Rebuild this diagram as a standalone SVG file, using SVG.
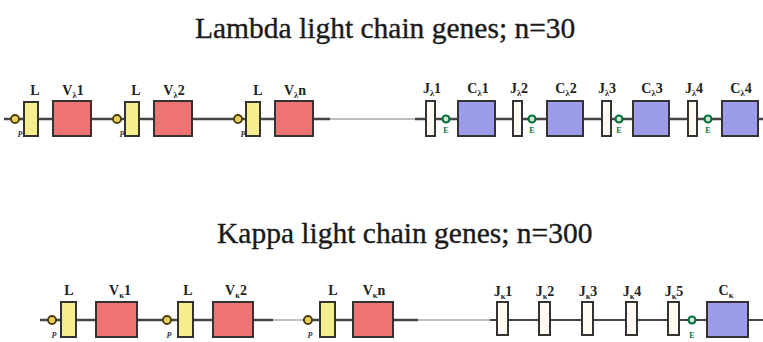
<svg xmlns="http://www.w3.org/2000/svg" width="763" height="342" viewBox="0 0 763 342">
<style>
.title{font-family:"Liberation Serif","Times New Roman",serif;font-size:29.5px;fill:#1a1a1a;stroke:#1a1a1a;stroke-width:0.35}
.lbl{font-family:"Liberation Serif","Times New Roman",serif;font-size:14px;font-weight:bold;fill:#222;text-anchor:middle}
.sub{font-size:8.5px}
.lead{fill:#f4ef8c;stroke:#333;stroke-width:2}
.v{fill:#f07373;stroke:#333;stroke-width:2}
.c{fill:#9c9ceb;stroke:#333;stroke-width:2}
.j{fill:#fffaf2;stroke:#333;stroke-width:2}
.p{fill:#e8d060;stroke:#4a3c00;stroke-width:1.8}
.e{fill:#cfe8d0;stroke:#0a7040;stroke-width:2.2}
.pl{font-family:"Liberation Serif",serif;font-size:8px;font-style:italic;font-weight:bold;fill:#334;text-anchor:middle}
.el{font-family:"Liberation Serif",serif;font-size:8px;font-weight:bold;fill:#0a7040;text-anchor:middle}
.bb{stroke:#454545;stroke-width:2.5;fill:none}
.gap{stroke:#aaaaaa;stroke-width:1.5;fill:none}
.bbt{stroke:#454545;stroke-width:2;fill:none}
</style>
<rect width="763" height="342" fill="#ffffff"/>
<text class="title" x="195" y="38">Lambda light chain genes; n=30</text>
<text class="title" x="217" y="243">Kappa light chain genes; n=300</text>

<g id="connectors">
<line class="bb" x1="4" y1="119" x2="330" y2="119"/>
<line class="gap" x1="330" y1="119" x2="415" y2="119"/>
<line class="bb" x1="415" y1="119" x2="763" y2="119"/>
<line class="bb" x1="40" y1="320" x2="273" y2="320"/>
<line class="gap" x1="273" y1="320" x2="303" y2="320"/>
<line class="bb" x1="303" y1="320" x2="418" y2="320"/>
<line class="gap" x1="418" y1="320" x2="490" y2="320"/>
<line class="bbt" x1="490" y1="320" x2="763" y2="320"/>
</g>

<!-- Lambda locus -->
<g id="lam-p1"><circle class="p" cx="15" cy="119" r="4"/><text class="pl" x="20" y="137">P</text></g>
<g id="lam-L1"><rect class="lead" x="24" y="102" width="14" height="34"/><text class="lbl" x="35" y="95">L</text></g>
<g id="lam-V1"><rect class="v" x="53" y="101" width="38" height="35"/><text class="lbl" x="73" y="95">V<tspan class="sub" dy="3">λ</tspan><tspan dy="-3">1</tspan></text></g>
<g id="lam-p2"><circle class="p" cx="117" cy="119" r="4"/><text class="pl" x="122" y="137">P</text></g>
<g id="lam-L2"><rect class="lead" x="125" y="102" width="14" height="34"/><text class="lbl" x="136" y="95">L</text></g>
<g id="lam-V2"><rect class="v" x="154" y="101" width="38" height="35"/><text class="lbl" x="174" y="95">V<tspan class="sub" dy="3">λ</tspan><tspan dy="-3">2</tspan></text></g>
<g id="lam-p3"><circle class="p" cx="238" cy="119" r="4"/><text class="pl" x="243" y="137">P</text></g>
<g id="lam-L3"><rect class="lead" x="246" y="102" width="14" height="34"/><text class="lbl" x="258" y="95">L</text></g>
<g id="lam-Vn"><rect class="v" x="275" y="101" width="38" height="35"/><text class="lbl" x="295" y="95">V<tspan class="sub" dy="3">λ</tspan><tspan dy="-3">n</tspan></text></g>

<g id="lam-J1"><rect class="j" x="426" y="101" width="9" height="35"/><text class="lbl" x="432" y="93">J<tspan class="sub" dy="3">λ</tspan><tspan dy="-3">1</tspan></text></g>
<g id="lam-E1"><circle class="e" cx="446" cy="119" r="3.5"/><text class="el" x="446" y="133">E</text></g>
<g id="lam-C1"><rect class="c" x="458" y="101" width="37" height="35"/><text class="lbl" x="478" y="93">C<tspan class="sub" dy="3">λ</tspan><tspan dy="-3">1</tspan></text></g>
<g id="lam-J2"><rect class="j" x="513" y="101" width="9" height="35"/><text class="lbl" x="519" y="93">J<tspan class="sub" dy="3">λ</tspan><tspan dy="-3">2</tspan></text></g>
<g id="lam-E2"><circle class="e" cx="532" cy="119" r="3.5"/><text class="el" x="532" y="133">E</text></g>
<g id="lam-C2"><rect class="c" x="547" y="101" width="36" height="35"/><text class="lbl" x="566" y="93">C<tspan class="sub" dy="3">λ</tspan><tspan dy="-3">2</tspan></text></g>
<g id="lam-J3"><rect class="j" x="602" y="101" width="9" height="35"/><text class="lbl" x="607" y="93">J<tspan class="sub" dy="3">λ</tspan><tspan dy="-3">3</tspan></text></g>
<g id="lam-E3"><circle class="e" cx="619" cy="119" r="3.5"/><text class="el" x="619" y="133">E</text></g>
<g id="lam-C3"><rect class="c" x="633" y="101" width="36" height="35"/><text class="lbl" x="652" y="93">C<tspan class="sub" dy="3">λ</tspan><tspan dy="-3">3</tspan></text></g>
<g id="lam-J4"><rect class="j" x="688" y="101" width="9" height="35"/><text class="lbl" x="694" y="93">J<tspan class="sub" dy="3">λ</tspan><tspan dy="-3">4</tspan></text></g>
<g id="lam-E4"><circle class="e" cx="708" cy="119" r="3.5"/><text class="el" x="708" y="133">E</text></g>
<g id="lam-C4"><rect class="c" x="722" y="101" width="36" height="35"/><text class="lbl" x="741" y="93">C<tspan class="sub" dy="3">λ</tspan><tspan dy="-3">4</tspan></text></g>

<!-- Kappa locus -->
<g id="kap-p1"><circle class="p" cx="52" cy="320" r="4"/><text class="pl" x="54" y="338">P</text></g>
<g id="kap-L1"><rect class="lead" x="61" y="302" width="15" height="35"/><text class="lbl" x="69" y="295">L</text></g>
<g id="kap-V1"><rect class="v" x="96" y="302" width="41" height="35"/><text class="lbl" x="120" y="295">V<tspan class="sub" dy="3">κ</tspan><tspan dy="-3">1</tspan></text></g>
<g id="kap-p2"><circle class="p" cx="167" cy="320" r="4"/><text class="pl" x="169" y="338">P</text></g>
<g id="kap-L2"><rect class="lead" x="178" y="302" width="15" height="35"/><text class="lbl" x="188" y="295">L</text></g>
<g id="kap-V2"><rect class="v" x="213" y="302" width="40" height="35"/><text class="lbl" x="236" y="295">V<tspan class="sub" dy="3">κ</tspan><tspan dy="-3">2</tspan></text></g>
<g id="kap-p3"><circle class="p" cx="308" cy="320" r="4"/><text class="pl" x="310" y="338">P</text></g>
<g id="kap-L3"><rect class="lead" x="320" y="302" width="15" height="35"/><text class="lbl" x="333" y="295">L</text></g>
<g id="kap-Vn"><rect class="v" x="353" y="302" width="40" height="35"/><text class="lbl" x="374" y="295">V<tspan class="sub" dy="3">κ</tspan><tspan dy="-3">n</tspan></text></g>

<g id="kap-J1"><rect class="j" x="497" y="302" width="11" height="33"/><text class="lbl" x="503" y="296">J<tspan class="sub" dy="3">κ</tspan><tspan dy="-3">1</tspan></text></g>
<g id="kap-J2"><rect class="j" x="539" y="302" width="11" height="33"/><text class="lbl" x="545" y="296">J<tspan class="sub" dy="3">κ</tspan><tspan dy="-3">2</tspan></text></g>
<g id="kap-J3"><rect class="j" x="582" y="302" width="11" height="33"/><text class="lbl" x="588" y="296">J<tspan class="sub" dy="3">κ</tspan><tspan dy="-3">3</tspan></text></g>
<g id="kap-J4"><rect class="j" x="626" y="302" width="11" height="33"/><text class="lbl" x="632" y="296">J<tspan class="sub" dy="3">κ</tspan><tspan dy="-3">4</tspan></text></g>
<g id="kap-J5"><rect class="j" x="668" y="302" width="11" height="33"/><text class="lbl" x="674" y="296">J<tspan class="sub" dy="3">κ</tspan><tspan dy="-3">5</tspan></text></g>
<g id="kap-E"><circle class="e" cx="692" cy="320" r="3.5"/><text class="el" x="692" y="338">E</text></g>
<g id="kap-C"><rect class="c" x="707" y="302" width="41" height="35"/><text class="lbl" x="726" y="295">C<tspan class="sub" dy="3">κ</tspan></text></g>
</svg>
